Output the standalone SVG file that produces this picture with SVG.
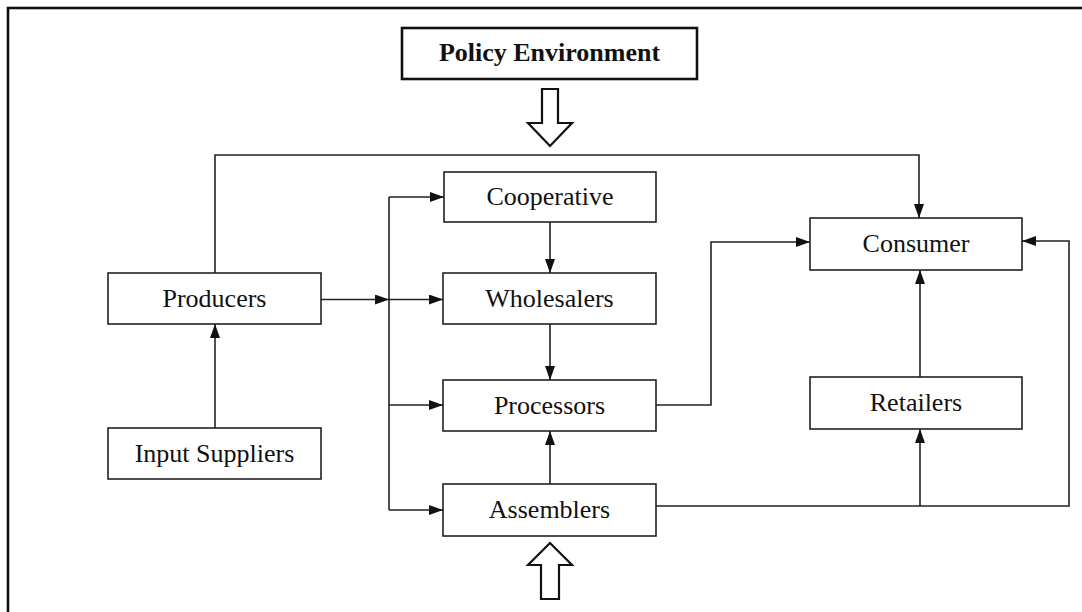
<svg xmlns="http://www.w3.org/2000/svg" width="1082" height="612" viewBox="0 0 1082 612">
<style>
.box{fill:#fff;stroke:#222;stroke-width:1.6}
.pbox{fill:#fff;stroke:#111;stroke-width:2.6}
.lbl{font-family:"Liberation Serif","Times New Roman",serif;font-size:26px;fill:#111;text-anchor:middle}
.bold{font-weight:bold}
.ln{fill:none;stroke:#222;stroke-width:1.6}
.hollow{fill:#fff;stroke:#111;stroke-width:2.2;stroke-linejoin:miter}
</style>
<defs>
<marker id="ah" markerUnits="userSpaceOnUse" markerWidth="14" markerHeight="10" refX="14" refY="5" orient="auto">
<path d="M0,0 L14,5 L0,10 z" fill="#111"/>
</marker>
</defs>
<rect x="8" y="8" width="1100" height="700" fill="#fff" stroke="#111" stroke-width="2.6"/>
<g id="policy">
<rect class="pbox" x="402" y="28" width="295" height="51"/>
<text class="lbl bold" x="549.5" y="61">Policy Environment</text>
</g>
<g id="policy-arrow">
<polygon class="hollow" points="542,89 558,89 558,123 572,123 550,146 528,123 542,123"/>
</g>
<g id="bottom-arrow">
<polygon class="hollow" points="541,599 559,599 559,565 572,565 550,543 528,565 541,565"/>
</g>
<g id="producers"><rect class="box" x="108" y="273" width="213" height="51"/><text class="lbl" x="214.5" y="307">Producers</text></g>
<g id="input-suppliers"><rect class="box" x="108" y="428" width="213" height="51"/><text class="lbl" x="214.5" y="462">Input Suppliers</text></g>
<g id="cooperative"><rect class="box" x="444" y="172" width="212" height="50"/><text class="lbl" x="550" y="205">Cooperative</text></g>
<g id="wholesalers"><rect class="box" x="443" y="273" width="213" height="51"/><text class="lbl" x="549.5" y="307">Wholesalers</text></g>
<g id="processors"><rect class="box" x="443" y="380" width="213" height="51"/><text class="lbl" x="549.5" y="414">Processors</text></g>
<g id="assemblers"><rect class="box" x="443" y="484" width="213" height="52"/><text class="lbl" x="549.5" y="518">Assemblers</text></g>
<g id="consumer"><rect class="box" x="810" y="218" width="212" height="52"/><text class="lbl" x="916" y="252">Consumer</text></g>
<g id="retailers"><rect class="box" x="810" y="377" width="212" height="52"/><text class="lbl" x="916" y="411">Retailers</text></g>
<g id="connectors">
<polyline class="ln" points="215,273 215,155 919,155 919,218" marker-end="url(#ah)"/>
<line class="ln" x1="321" y1="299.5" x2="389" y2="299.5" marker-end="url(#ah)"/>
<line class="ln" x1="389" y1="197" x2="389" y2="510"/>
<line class="ln" x1="389" y1="197" x2="444" y2="197" marker-end="url(#ah)"/>
<line class="ln" x1="389" y1="299.5" x2="443" y2="299.5" marker-end="url(#ah)"/>
<line class="ln" x1="389" y1="405" x2="443" y2="405" marker-end="url(#ah)"/>
<line class="ln" x1="389" y1="510" x2="443" y2="510" marker-end="url(#ah)"/>
<line class="ln" x1="215" y1="428" x2="215" y2="324" marker-end="url(#ah)"/>
<line class="ln" x1="550" y1="222" x2="550" y2="273" marker-end="url(#ah)"/>
<line class="ln" x1="550" y1="324" x2="550" y2="380" marker-end="url(#ah)"/>
<line class="ln" x1="550" y1="484" x2="550" y2="431" marker-end="url(#ah)"/>
<polyline class="ln" points="656,405 711,405 711,242 810,242" marker-end="url(#ah)"/>
<polyline class="ln" points="656,506 1069,506 1069,241 1022,241" marker-end="url(#ah)"/>
<line class="ln" x1="920" y1="506" x2="920" y2="429" marker-end="url(#ah)"/>
<line class="ln" x1="920" y1="377" x2="920" y2="270" marker-end="url(#ah)"/>
</g>
</svg>
